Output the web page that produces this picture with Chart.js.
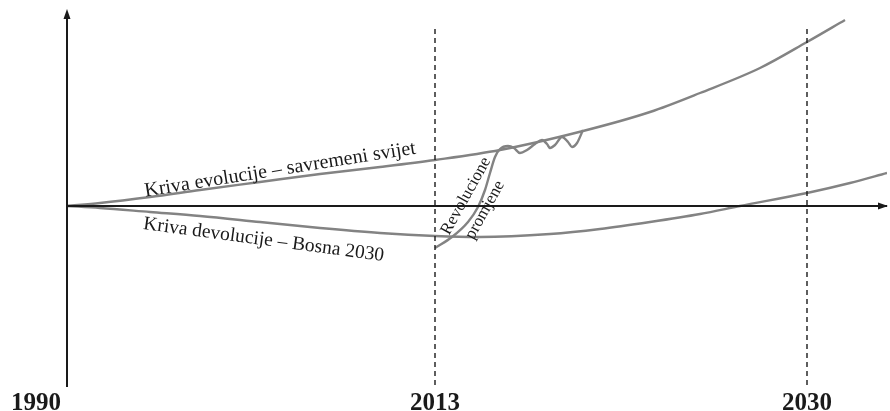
<!DOCTYPE html>
<html>
<head>
<meta charset="utf-8">
<script src="https://cdn.jsdelivr.net/npm/chart.js@4"></script>
<style>
  html, body { margin: 0; padding: 0; background: #fff; }
  #wrap { width: 890px; height: 411px; position: relative; }
</style>
</head>
<body>
<div id="wrap"><canvas id="myChart"></canvas></div>
<script>
"use strict";

// time runs along x in abstract units (0 = 1990), level of development on y
var tickLabels = ['1990', '2013', '2030'];
var tickPos = [0, 368, 740];

var evolutionX = [0, 33, 83, 133, 193, 253, 313, 368, 433, 516, 583, 633, 693, 740, 778];
var evolutionY = [0, 3, 9, 16, 24, 32, 39, 46, 56, 75, 94, 113, 138, 164, 186];

var devolutionX = [0, 33, 83, 133, 193, 253, 313, 368, 413, 483, 533, 583, 633, 673, 740, 783, 820];
var devolutionY = [0, -2, -6, -10, -16, -22, -27, -30, -31, -28, -23, -16, -8, 0, 13, 23, 33];

var revolutionX = [368, 385, 401, 411, 418, 423, 428, 433, 441, 447, 453, 460, 468, 475, 480, 483, 488, 495, 501, 505, 510, 516];
var revolutionY = [-42, -31, -16, -1, 16, 33, 49, 57, 60, 58, 53, 56, 62, 66, 62, 58, 61, 69, 64, 59, 63, 76];

var xMax = 820, yMin = -181, yMax = 196;

function pts(xs, ys) {
    return xs.map(function(x, i){ return {x: x, y: ys[i]}; });
}

var curveGray = '#838383';
var ink = '#1a1a1a';

function dashed(pos) {
    return {
        data: [{x: pos, y: -179}, {x: pos, y: 181}],
        borderColor: ink, borderWidth: 1.4, borderDash: [5, 4],
        pointRadius: 0, tension: 0, clip: false
    };
}

var labelsPlugin = {
    id: 'sketchLabels',
    afterDatasetsDraw: function(chart) {
        var ctx = chart.ctx;
        var xs = chart.scales.x, ys = chart.scales.y;
        ctx.save();
        ctx.fillStyle = ink;

        // arrow heads
        var x0 = xs.getPixelForValue(0), y0 = ys.getPixelForValue(0);
        var top = ys.getPixelForValue(yMax), right = xs.getPixelForValue(xMax);
        ctx.beginPath();
        ctx.moveTo(x0, top - 1); ctx.lineTo(x0 - 3.5, top + 9); ctx.lineTo(x0 + 3.5, top + 9);
        ctx.closePath(); ctx.fill();
        ctx.beginPath();
        ctx.moveTo(right + 1, y0); ctx.lineTo(right - 9, y0 - 3.5); ctx.lineTo(right - 9, y0 + 3.5);
        ctx.closePath(); ctx.fill();

        // year labels
        ctx.font = 'bold 25px "Liberation Serif", "DejaVu Serif", serif';
        ctx.textBaseline = 'alphabetic';
        tickLabels.forEach(function(t, i){
            var px = xs.getPixelForValue(tickPos[i]);
            if (i === 0) { ctx.textAlign = 'right'; px -= 6; }
            else { ctx.textAlign = 'center'; }
            ctx.fillText(t, px, 410);
        });

        // curve captions
        ctx.font = '20px "Liberation Serif", "DejaVu Serif", serif';
        function caption(text, x, y, deg, base) {
            ctx.save();
            ctx.translate(xs.getPixelForValue(x), ys.getPixelForValue(y));
            ctx.rotate(deg * Math.PI / 180);
            ctx.textAlign = 'center';
            ctx.textBaseline = base;
            ctx.fillText(text, 0, 0);
            ctx.restore();
        }
        caption('Kriva evolucije \u2013 savremeni svijet', 214, 31, -9, 'alphabetic');
        ctx.font = '19.5px "Liberation Serif", "DejaVu Serif", serif';
        caption('Kriva devolucije \u2013 Bosna 2030', 196, -39, 7.6, 'alphabetic');
        ctx.font = '17px "Liberation Serif", "DejaVu Serif", serif';
        caption('Revolucione', 399, 10, -61, 'middle');
        caption('promjene', 418, -4, -61, 'middle');
        ctx.restore();
    }
};

var myChart = document.getElementById('myChart').getContext('2d');
var chart = new Chart(myChart, {
    type: 'line',
    data: {
        datasets: [
            dashed(tickPos[1]),
            dashed(tickPos[2]),
            {
                data: [{x: 0, y: 0}, {x: xMax, y: 0}],
                borderColor: ink, borderWidth: 2, pointRadius: 0, tension: 0, clip: false
            },
            {
                data: [{x: 0, y: yMin}, {x: 0, y: yMax - 2}],
                borderColor: ink, borderWidth: 2, pointRadius: 0, tension: 0, clip: false
            },
            {
                label: 'Kriva evolucije',
                data: pts(evolutionX, evolutionY),
                borderColor: curveGray, borderWidth: 2.4, pointRadius: 0,
                cubicInterpolationMode: 'monotone', clip: false
            },
            {
                label: 'Kriva devolucije',
                data: pts(devolutionX, devolutionY),
                borderColor: curveGray, borderWidth: 2.4, pointRadius: 0,
                cubicInterpolationMode: 'monotone'
            },
            {
                label: 'Revolucione promjene',
                data: pts(revolutionX, revolutionY),
                borderColor: curveGray, borderWidth: 2.4, pointRadius: 0,
                cubicInterpolationMode: 'monotone', clip: false
            }
        ]
    },
    options: {
        responsive: true,
        maintainAspectRatio: false,
        animation: false,
        layout: { padding: { left: 67, right: 3, top: 10, bottom: 24 } },
        plugins: { legend: { display: false }, tooltip: { enabled: false } },
        scales: {
            x: { type: 'linear', min: 0, max: xMax, display: false },
            y: { type: 'linear', min: yMin, max: yMax, display: false }
        }
    },
    plugins: [labelsPlugin]
});
</script>
</body>
</html>
